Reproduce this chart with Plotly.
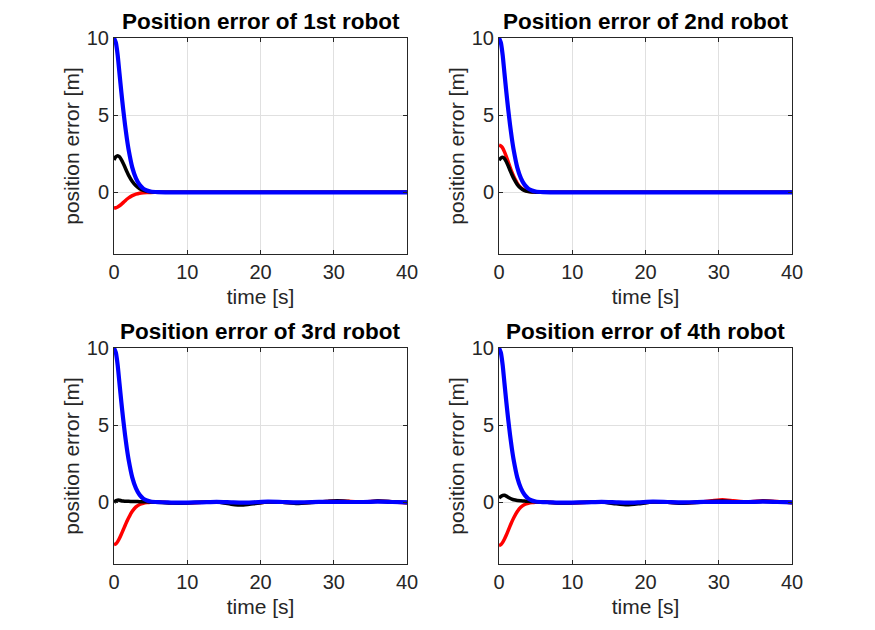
import plotly.graph_objects as go

# ---------------- data ----------------
t = [0, 0.25, 0.5, 0.75, 1, 1.25, 1.5, 1.75, 2, 2.5, 3, 3.5, 4, 4.5, 5, 6, 7, 8, 9, 10,
     12, 14, 16, 17.5, 19, 21, 23, 25, 27, 29, 30.5, 32, 34, 36, 38, 40]

titles = ["Position error of 1st robot", "Position error of 2nd robot",
          "Position error of 3rd robot", "Position error of 4th robot"]

r1_red = [-1.02, -1.0, -0.95, -0.87, -0.78, -0.67, -0.56, -0.45, -0.36, -0.22, -0.12, -0.06, -0.03, -0.015, -0.01, 0, 0, 0, 0, 0,
          0, 0, 0, 0, 0, 0, 0, 0, 0, 0, 0, 0, 0, 0, 0, 0]
r1_black = [2.1, 2.3, 2.37, 2.3, 2.12, 1.88, 1.62, 1.35, 1.1, 0.7, 0.42, 0.23, 0.12, 0.06, 0.03, 0.01, 0, 0, 0, 0,
            0, 0, 0, 0, 0, 0, 0, 0, 0, 0, 0, 0, 0, 0, 0, 0]
r1_blue = [10, 9.7, 8.9, 7.7, 6.5, 5.4, 4.4, 3.5, 2.75, 1.6, 0.9, 0.48, 0.24, 0.12, 0.05, 0.01, 0, 0, 0, 0,
           0, 0, 0, 0, 0, 0, 0, 0, 0, 0, 0, 0, 0, 0, 0, 0]

r2_red = [3.05, 3.0, 2.87, 2.62, 2.32, 1.98, 1.64, 1.32, 1.04, 0.58, 0.29, 0.13, 0.06, 0.03, 0.01, 0, 0, 0, 0, 0,
          0, 0, 0, 0, 0, 0, 0, 0, 0, 0, 0, 0, 0, 0, 0, 0]
r2_black = [2.07, 2.22, 2.27, 2.18, 1.98, 1.72, 1.43, 1.15, 0.9, 0.5, 0.25, 0.11, 0.05, 0.02, 0.01, 0, 0, 0, 0, 0,
            0, 0, 0, 0, 0, 0, 0, 0, 0, 0, 0, 0, 0, 0, 0, 0]
r2_blue = [10, 9.7, 8.9, 7.7, 6.5, 5.4, 4.4, 3.5, 2.75, 1.6, 0.9, 0.48, 0.24, 0.12, 0.05, 0.01, 0, 0, 0, 0,
           0, 0, 0, 0, 0, 0, 0, 0, 0, 0, 0, 0, 0, 0, 0, 0]

r3_red = [-2.75, -2.7, -2.55, -2.33, -2.07, -1.8, -1.52, -1.25, -1.0, -0.58, -0.3, -0.14, -0.06, -0.02, 0.0, 0.02, 0.0, -0.05, -0.07, -0.05,
          0.0, 0.03, -0.05, -0.08, -0.05, 0.02, 0.0, -0.05, 0.0, 0.05, 0.1, 0.06, 0.02, 0.08, 0.03, -0.05]
r3_black = [-0.02, 0.1, 0.14, 0.13, 0.1, 0.08, 0.07, 0.06, 0.06, 0.05, 0.05, 0.04, 0.04, 0.03, 0.02, 0.0, -0.03, -0.05, -0.06, -0.04,
            0.0, 0.02, -0.12, -0.18, -0.1, 0.02, 0.0, -0.08, -0.02, 0.05, 0.1, 0.05, 0.0, 0.08, 0.03, -0.02]
r3_blue = [10, 9.7, 8.9, 7.7, 6.5, 5.4, 4.4, 3.5, 2.75, 1.6, 0.9, 0.48, 0.24, 0.12, 0.05, 0.01, 0, -0.02, -0.02, -0.02,
           0.0, 0.03, 0.0, -0.02, 0.0, 0.04, 0.02, 0.0, 0.01, 0.03, 0.03, 0.02, 0.02, 0.04, 0.02, 0.0]

r4_red = [-2.8, -2.75, -2.6, -2.38, -2.12, -1.84, -1.55, -1.27, -1.02, -0.6, -0.31, -0.14, -0.06, -0.02, 0.0, 0.02, 0.0, -0.05, -0.07, -0.05,
          0.0, 0.03, -0.04, -0.06, -0.03, 0.02, 0.0, -0.04, 0.0, 0.1, 0.17, 0.1, 0.02, 0.1, 0.05, -0.03]
r4_black = [0.28, 0.38, 0.44, 0.45, 0.4, 0.33, 0.26, 0.2, 0.16, 0.12, 0.1, 0.08, 0.06, 0.05, 0.04, 0.02, -0.02, -0.05, -0.05, -0.03,
            0.0, 0.02, -0.1, -0.16, -0.1, 0.02, 0.0, -0.06, -0.02, 0.05, 0.08, 0.04, 0.0, 0.07, 0.03, -0.02]
r4_blue = [10, 9.7, 8.9, 7.7, 6.5, 5.4, 4.4, 3.5, 2.75, 1.6, 0.9, 0.48, 0.24, 0.12, 0.05, 0.01, 0, -0.02, -0.02, -0.02,
           0.0, 0.03, 0.0, -0.02, 0.0, 0.04, 0.02, 0.0, 0.01, 0.03, 0.03, 0.02, 0.02, 0.04, 0.02, 0.0]

robots = [(r1_red, r1_black, r1_blue), (r2_red, r2_black, r2_blue),
          (r3_red, r3_black, r3_blue), (r4_red, r4_black, r4_blue)]

x_ticks = [0, 10, 20, 30, 40]
y_ticks = [0, 5, 10]
x_label = "time [s]"
y_label = "position error [m]"

# ---------------- layout geometry ----------------
W, H = 875, 630
FONT = "Liberation Sans, Arial, Helvetica, sans-serif"
AX = "#262626"
GRID = "#e0e0e0"

px_x = [(114, 407), (499, 792), (114, 407), (499, 792)]
px_y = [(38, 254), (38, 254), (348, 564), (348, 564)]

fig = go.Figure()
annotations = []
for i, (red, black, blue) in enumerate(robots):
    n = "" if i == 0 else str(i + 1)
    xa, ya = "x" + n, "y" + n
    for vals, col, w in [(red, "#ff0000", 3.5), (black, "#000000", 3.5), (blue, "#0000ff", 4.2)]:
        fig.add_trace(go.Scatter(x=t, y=vals, mode="lines", xaxis=xa, yaxis=ya,
                                 line=dict(color=col, width=w, shape="spline", smoothing=0.6),
                                 showlegend=False, hoverinfo="skip"))
    x0, x1 = px_x[i]
    y0, y1 = px_y[i]
    common = dict(showline=True, linecolor=AX, linewidth=1, mirror="ticks",
                  ticks="inside", ticklen=4, tickcolor=AX, tickwidth=1,
                  showgrid=True, gridcolor=GRID, gridwidth=1, zeroline=False,
                  automargin=False,
                  tickfont=dict(family=FONT, size=20, color=AX))
    fig.update_layout(**{
        "xaxis" + n: dict(domain=[x0 / W, x1 / W], anchor=ya, range=[0, 40],
                          tickvals=x_ticks, ticktext=[str(v) for v in x_ticks],
                          title=dict(text=x_label, font=dict(family=FONT, size=21, color=AX), standoff=7),
                          **common),
        "yaxis" + n: dict(domain=[1 - y1 / H, 1 - y0 / H], anchor=xa, range=[-4, 10],
                          tickvals=y_ticks, ticktext=[str(v) for v in y_ticks],
                          title=dict(text=y_label, font=dict(family=FONT, size=21, color=AX), standoff=1),
                          **common),
    })
    annotations.append(dict(text="<b>" + titles[i] + "</b>", x=(x0 + x1) / 2 / W, y=1 - y0 / H,
                            xref="paper", yref="paper", xanchor="center", yanchor="bottom",
                            yshift=2, showarrow=False,
                            font=dict(family=FONT, size=22.5, color="#000000")))

fig.update_layout(width=W, height=H, margin=dict(l=0, r=0, t=0, b=0, autoexpand=False),
                  paper_bgcolor="white", plot_bgcolor="white",
                  annotations=annotations, showlegend=False)

fig.write_html("out.html", config={"displayModeBar": False, "staticPlot": True},
               post_script="document.body.style.margin='0';document.body.style.padding='0';")
